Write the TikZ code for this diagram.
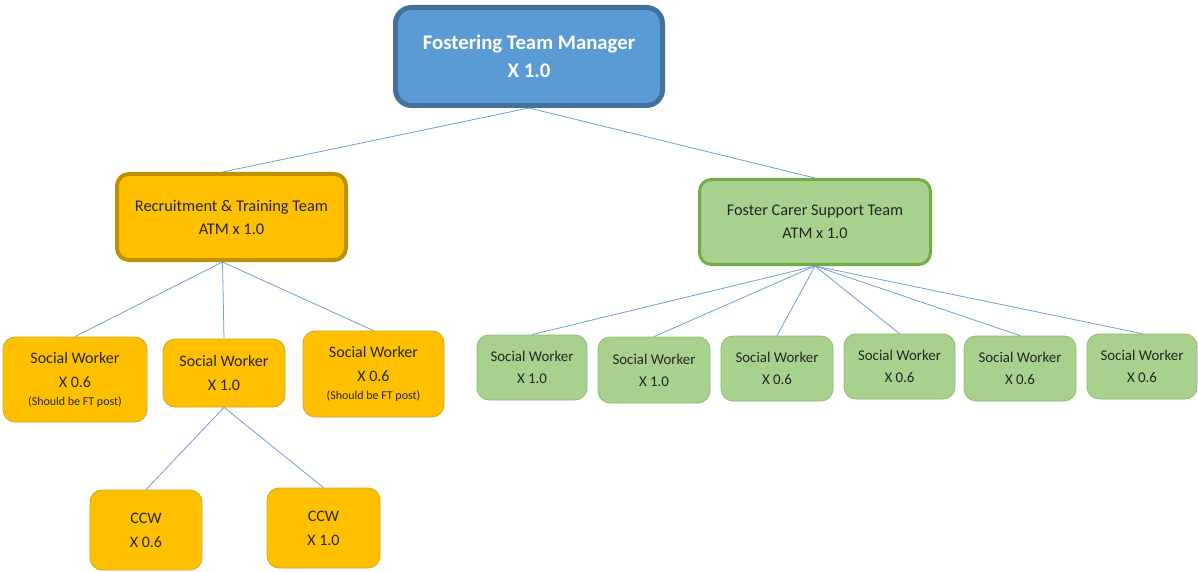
\documentclass[tikz,border=0pt]{standalone}
\usepackage{fontspec}
\setmainfont{Carlito}
\usetikzlibrary{positioning}

\definecolor{mgrfill}{HTML}{5B9BD5}
\definecolor{mgrline}{HTML}{41719C}
\definecolor{amberfill}{HTML}{FFC000}
\definecolor{amberline}{HTML}{BF9000}
\definecolor{sagefill}{HTML}{A9D18E}
\definecolor{sageline}{HTML}{70AD47}
\definecolor{linkblue}{HTML}{6E9FD6}
\definecolor{textdark}{HTML}{262626}

\newcommand{\remarksize}{\fontsize{12}{15}\selectfont}

\begin{document}
\begin{tikzpicture}[
    x=1pt, y=-1pt,
    % Styles
    post/.style={ % Any box in the chart
        rectangle,
        rounded corners=12pt,
        draw,
        align=center,
        inner sep=0pt,
        text=textdark
    },
    manager/.style={ % Top box
        post,
        rounded corners=16pt,
        line width=5pt,
        draw=mgrline,
        fill=mgrfill,
        text=white,
        font=\bfseries\fontsize{20.8}{28}\selectfont
    },
    leadr/.style={ % Recruitment team lead
        post,
        line width=4pt,
        draw=amberline,
        fill=amberfill,
        font=\fontsize{16.4}{23}\selectfont
    },
    leadf/.style={ % Foster carer team lead
        post,
        line width=3pt,
        draw=sageline,
        fill=sagefill,
        font=\fontsize{16.3}{23}\selectfont
    },
    workr/.style={ % Recruitment team posts
        post,
        line width=0.8pt,
        draw=amberline!80,
        fill=amberfill,
        font=\fontsize{16}{24}\selectfont
    },
    workf/.style={ % Foster carer team posts
        post,
        line width=0.8pt,
        draw=sageline!80,
        fill=sagefill,
        font=\fontsize{14.9}{22}\selectfont
    },
    link/.style={ % Connectors
        draw=linkblue,
        line width=0.8pt
    }
]
    \useasboundingbox (0,0) rectangle (1198,572);

    % Manager
    \node [manager, minimum width=267pt, minimum height=98pt] (mgr) at (529,56.5) {Fostering Team Manager\\X 1.0};

    % Team leads
    \node [leadr, minimum width=229pt, minimum height=86pt] (rt) at (231.5,217) {Recruitment \& Training Team\\ATM x 1.0};
    \node [leadf, minimum width=231pt, minimum height=85pt] (fc) at (815,222) {Foster Carer Support Team\\ATM x 1.0};

    % Recruitment & training posts
    \node [workr, minimum width=144pt, minimum height=85pt] (rsw1) at (75,379.5) {Social Worker\\X 0.6\\[-6pt]{\remarksize (Should be FT post)}};
    \node [workr, minimum width=122pt, minimum height=68pt] (rsw2) at (224,373) {Social Worker\\X 1.0};
    \node [workr, minimum width=141pt, minimum height=86pt] (rsw3) at (373.5,374) {Social Worker\\X 0.6\\[-6pt]{\remarksize (Should be FT post)}};
    \node [workr, minimum width=112pt, minimum height=80pt] (ccw1) at (146,530) {CCW\\X 0.6};
    \node [workr, minimum width=113pt, minimum height=80pt] (ccw2) at (323.5,528) {CCW\\X 1.0};

    % Foster carer support posts
    \node [workf, minimum width=110pt, minimum height=65pt] (fsw1) at (532,367.5) {Social Worker\\X 1.0};
    \node [workf, minimum width=112pt, minimum height=66pt] (fsw2) at (654,370) {Social Worker\\X 1.0};
    \node [workf, minimum width=112pt, minimum height=65pt] (fsw3) at (777,368.5) {Social Worker\\X 0.6};
    \node [workf, minimum width=111pt, minimum height=65pt] (fsw4) at (899.5,366.5) {Social Worker\\X 0.6};
    \node [workf, minimum width=112pt, minimum height=65pt] (fsw5) at (1020,368.5) {Social Worker\\X 0.6};
    \node [workf, minimum width=110pt, minimum height=65pt] (fsw6) at (1142,366.5) {Social Worker\\X 0.6};

    % Connectors
    \draw [link] (mgr.south) -- ([xshift=-9pt]rt.north);
    \draw [link] (mgr.south) -- (fc.north);
    \draw [link] ([xshift=-9pt]rt.south) -- (rsw1.north);
    \draw [link] ([xshift=-9pt]rt.south) -- (rsw2.north);
    \draw [link] ([xshift=-9pt]rt.south) -- (rsw3.north);
    \draw [link] (rsw2.south) -- (ccw1.north);
    \draw [link] (rsw2.south) -- (ccw2.north);
    \foreach \i in {1,...,6}
        \draw [link] (fc.south) -- (fsw\i.north);
\end{tikzpicture}
\end{document}
